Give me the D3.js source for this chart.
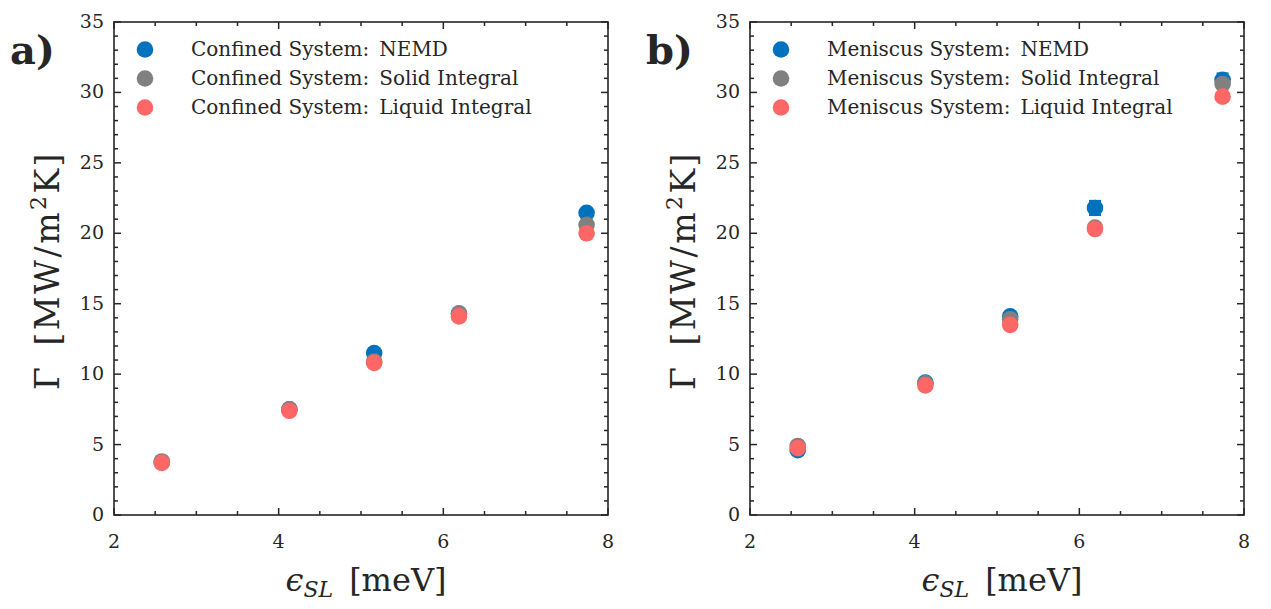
<!DOCTYPE html>
<html><head><meta charset="utf-8">
<script src="https://cdn.jsdelivr.net/npm/d3@7"></script>
<style>body{margin:0;background:#fff;} svg{display:block;} text{font-family:"DejaVu Serif",serif;fill:#262626;}</style>
</head><body><svg id="c" width="1271" height="609"></svg>
<script>
const eps = [2.58, 4.13, 5.16, 6.19, 7.74];
const confNEMD = [3.75, 7.5, 11.5, 14.3, 21.45];
const confNEMDerr = [0.1, 0.1, 0.15, 0.15, 0.2];
const confSolid = [3.8, 7.5, 10.9, 14.3, 20.6];
const confLiquid = [3.7, 7.4, 10.8, 14.1, 20.0];
const menNEMD = [4.6, 9.4, 14.1, 21.8, 30.9];
const menNEMDerr = [0.15, 0.15, 0.2, 0.5, 0.45];
const menSolid = [4.9, 9.35, 13.9, 20.4, 30.6];
const menLiquid = [4.75, 9.2, 13.5, 20.3, 29.7];
const xTicks = [2, 4, 6, 8];
const yTicks = [0, 5, 10, 15, 20, 25, 30, 35];
const colors = {nemd: "#0072BD", solid: "#808080", liquid: "#FF6666"};

const svg = d3.select("#c");
const axisColor = "#262626";

function panel(left, right, label, sysName, nemd, nerr, solid, liquid) {
  const top = 22, bottom = 515;
  const x = d3.scaleLinear().domain([2, 8]).range([left, right]);
  const y = d3.scaleLinear().domain([0, 35]).range([bottom, top]);
  const g = svg.append("g");
  g.append("rect").attr("x", left).attr("y", top).attr("width", right - left).attr("height", bottom - top)
    .attr("fill", "none").attr("stroke", axisColor).attr("stroke-width", 1.6);
  const xMinor = d3.range(2, 8.001, 0.5);
  const yMinor = d3.range(0, 35.001, 1);
  xMinor.forEach(v => {
    const L = xTicks.includes(v) ? 7 : 4;
    g.append("line").attr("x1", x(v)).attr("x2", x(v)).attr("y1", bottom).attr("y2", bottom - L).attr("stroke", axisColor).attr("stroke-width", 1.5);
    g.append("line").attr("x1", x(v)).attr("x2", x(v)).attr("y1", top).attr("y2", top + L).attr("stroke", axisColor).attr("stroke-width", 1.5);
  });
  yMinor.forEach(v => {
    const L = yTicks.includes(v) ? 7 : 4;
    g.append("line").attr("y1", y(v)).attr("y2", y(v)).attr("x1", left).attr("x2", left + L).attr("stroke", axisColor).attr("stroke-width", 1.5);
    g.append("line").attr("y1", y(v)).attr("y2", y(v)).attr("x1", right).attr("x2", right - L).attr("stroke", axisColor).attr("stroke-width", 1.5);
  });
  xTicks.forEach(v => g.append("text").attr("x", x(v)).attr("y", bottom + 33).attr("text-anchor", "middle").attr("font-size", 19).text(v));
  yTicks.forEach(v => g.append("text").attr("x", left - 10).attr("y", y(v) + 6).attr("text-anchor", "end").attr("font-size", 19).text(v));
  const xl = g.append("text").attr("x", (left + right) / 2 + 5).attr("y", 591).attr("text-anchor", "middle").attr("font-size", 32);
  xl.append("tspan").attr("font-style", "italic").text("ϵ");
  xl.append("tspan").attr("font-style", "italic").attr("font-size", 22).attr("dy", 6).text("SL");
  xl.append("tspan").attr("dy", -6).text("\u2002[meV]");
  const yl = g.append("text").attr("transform", `translate(${left - 55},${(top + bottom) / 2 + 2}) rotate(-90)`).attr("text-anchor", "middle").attr("font-size", 33).attr("letter-spacing", 2.5);
  yl.append("tspan").text("Γ\u2002[MW/m");
  yl.append("tspan").attr("font-size", 22).attr("dy", -13).text("2");
  yl.append("tspan").attr("dy", 13).text("K]");
  g.append("text").attr("x", left - 104).attr("y", 64).attr("font-size", 40).attr("font-weight", "bold").text(label);
  const dg = g.append("g");
  dg.selectAll(".eb").data(eps).enter().append("g").each(function(d, i) {
    const s = d3.select(this);
    const xc = x(d), y1 = y(nemd[i] + nerr[i]), y2 = y(nemd[i] - nerr[i]);
    s.append("line").attr("x1", xc).attr("x2", xc).attr("y1", y1).attr("y2", y2).attr("stroke", colors.nemd).attr("stroke-width", 2);
    s.append("line").attr("x1", xc - 6).attr("x2", xc + 6).attr("y1", y1).attr("y2", y1).attr("stroke", colors.nemd).attr("stroke-width", 2);
    s.append("line").attr("x1", xc - 6).attr("x2", xc + 6).attr("y1", y2).attr("y2", y2).attr("stroke", colors.nemd).attr("stroke-width", 2);
  });
  [[nemd, colors.nemd], [solid, colors.solid], [liquid, colors.liquid]].forEach(([arr, col]) => {
    dg.selectAll(null).data(eps).enter().append("circle")
      .attr("cx", d => x(d)).attr("cy", (d, i) => y(arr[i])).attr("r", 8.3).attr("fill", col);
  });
  const names = [sysName + ":\u2002NEMD", sysName + ":\u2002Solid Integral", sysName + ":\u2002Liquid Integral"];
  const lc = [colors.nemd, colors.solid, colors.liquid];
  names.forEach((n, i) => {
    const yy = 49.5 + i * 29;
    g.append("circle").attr("cx", left + 31).attr("cy", yy).attr("r", 8.3).attr("fill", lc[i]);
    g.append("text").attr("x", left + 77).attr("y", yy + 6.5).attr("font-size", 20).text(n);
  });
}
panel(114, 608, "a)", "Confined System", confNEMD, confNEMDerr, confSolid, confLiquid);
panel(750, 1244, "b)", "Meniscus System", menNEMD, menNEMDerr, menSolid, menLiquid);
</script></body></html>
